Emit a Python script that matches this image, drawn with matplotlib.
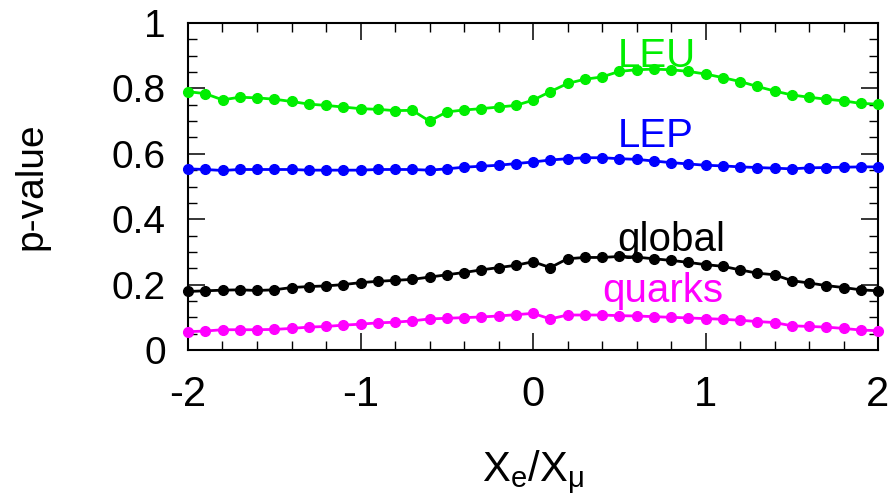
import numpy as np
import matplotlib
matplotlib.use("Agg")
import matplotlib.pyplot as plt
from matplotlib.ticker import MultipleLocator

plt.rcParams['font.family'] = ['Liberation Sans', 'DejaVu Sans']
plt.rcParams['mathtext.fontset'] = 'custom'
plt.rcParams['mathtext.rm'] = 'Liberation Sans'
plt.rcParams['mathtext.it'] = 'Liberation Sans'

x_values = [round(-2.0 + 0.1 * i, 1) for i in range(41)]

leu = [0.790, 0.784, 0.765, 0.773, 0.771, 0.767, 0.760, 0.752, 0.748, 0.743,
       0.738, 0.736, 0.732, 0.733, 0.700, 0.728, 0.734, 0.738, 0.743, 0.748,
       0.764, 0.790, 0.815, 0.828, 0.835, 0.852, 0.857, 0.859, 0.857, 0.852,
       0.844, 0.833, 0.821, 0.806, 0.792, 0.780, 0.773, 0.767, 0.762, 0.754,
       0.752]
lep = [0.554, 0.552, 0.549, 0.552, 0.552, 0.552, 0.552, 0.550, 0.550, 0.550,
       0.550, 0.552, 0.552, 0.552, 0.550, 0.554, 0.559, 0.562, 0.565, 0.570,
       0.575, 0.581, 0.585, 0.588, 0.588, 0.585, 0.583, 0.578, 0.573, 0.569,
       0.565, 0.563, 0.560, 0.558, 0.556, 0.554, 0.557, 0.558, 0.559, 0.560,
       0.560]
global_p = [0.179, 0.181, 0.183, 0.184, 0.182, 0.184, 0.191, 0.194, 0.196, 0.200,
            0.206, 0.210, 0.213, 0.216, 0.223, 0.230, 0.237, 0.245, 0.252, 0.259,
            0.270, 0.252, 0.279, 0.283, 0.283, 0.286, 0.284, 0.279, 0.274, 0.268,
            0.261, 0.256, 0.245, 0.235, 0.230, 0.212, 0.205, 0.197, 0.191, 0.184,
            0.181]
quarks = [0.056, 0.058, 0.062, 0.062, 0.062, 0.063, 0.066, 0.070, 0.072, 0.076,
          0.079, 0.083, 0.085, 0.089, 0.095, 0.097, 0.099, 0.101, 0.104, 0.108,
          0.112, 0.095, 0.107, 0.107, 0.107, 0.105, 0.104, 0.102, 0.100, 0.098,
          0.096, 0.094, 0.091, 0.087, 0.084, 0.074, 0.072, 0.070, 0.066, 0.061,
          0.059]

series_names = ["LEU", "LEP", "global", "quarks"]
series_colors = ["#00ee00", "#0000ff", "#000000", "#ff00ff"]
label_x = [0.49, 0.49, 0.49, 0.40]
label_y = [0.865, 0.620, 0.302, 0.148]

x_ticks = [-2, -1, 0, 1, 2]
y_ticks = [0, 0.2, 0.4, 0.6, 0.8, 1]
y_tick_labels = ["0", "0.2", "0.4", "0.6", "0.8", "1"]

fig = plt.figure(figsize=(8.94, 5.03), dpi=100)
ax = fig.add_axes([188/894, 1 - 350/503, (878-188)/894, (350-23)/503])

for ys, c in zip([leu, lep, global_p, quarks], series_colors):
    ax.plot(x_values, ys, '-o', color=c, lw=2.0, ms=7.0, clip_on=False, zorder=5)

for name, c, tx, ty in zip(series_names, series_colors, label_x, label_y):
    ax.text(tx, ty, name, color=c, fontsize=29, ha='left', va='baseline')

ax.set_xlim(-2, 2)
ax.set_ylim(0, 1)
ax.set_xticks(x_ticks)
ax.set_xticklabels([str(t) for t in x_ticks], fontsize=30)
ax.set_yticks(y_ticks)
ax.set_yticklabels(y_tick_labels, fontsize=28)
ax.xaxis.set_minor_locator(MultipleLocator(0.2))
ax.yaxis.set_minor_locator(MultipleLocator(0.05))
ax.tick_params(which='both', direction='in', top=True, right=True)
ax.tick_params(which='major', length=12.5, width=1.1)
ax.tick_params(which='minor', length=6.5, width=1.0)
ax.tick_params(axis='x', which='major', pad=18)
ax.tick_params(axis='y', which='major', pad=16)
for s in ax.spines.values():
    s.set_linewidth(1.5)

ax.set_xlabel(r'$\mathregular{X_e/X_μ}$', fontsize=30, labelpad=24)
ax.set_ylabel('p-value', fontsize=28, labelpad=45)

fig.savefig('out.png', dpi=100)
